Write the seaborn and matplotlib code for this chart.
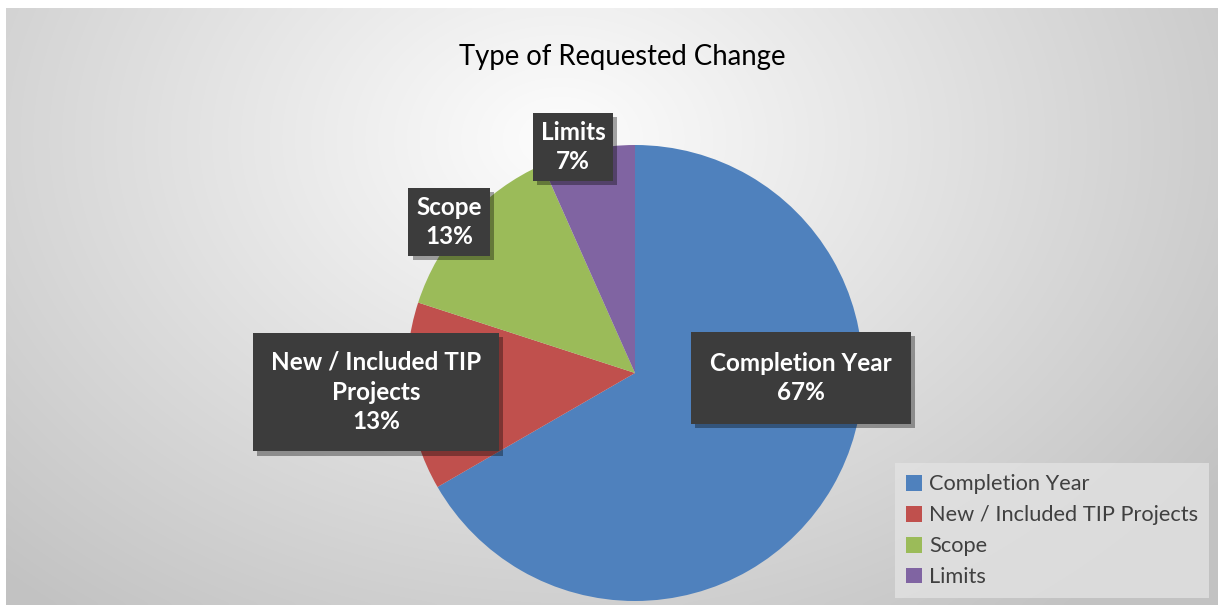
import numpy as np
import matplotlib.pyplot as plt
import matplotlib.patheffects as pe
from matplotlib.colors import LinearSegmentedColormap
import seaborn as sns

# data
categories = ['Completion Year', 'New / Included TIP Projects', 'Scope', 'Limits']
counts = [10, 2, 2, 1]
label_names = ['Completion Year', 'New / Included TIP\nProjects', 'Scope', 'Limits']
colors = ['#4F81BD', '#C0504D', '#9BBB59', '#8064A2']

# label box centres (pixels from top-left) and padding
label_xy = [(801, 378), (376, 392), (449, 222), (573, 147)]
label_pad = [0.8, 0.75, 0.32, 0.32]

W, H = 1218, 613

sns.set_theme(style='white')
plt.rcParams['font.family'] = ['Lato', 'DejaVu Sans']

fig = plt.figure(figsize=(W / 100, H / 100), dpi=100)
fig.patch.set_facecolor('white')
ax = fig.add_axes([0, 0, 1, 1])
ax.set_axis_off()

# radial grey gradient behind the chart area
gx, gy = np.meshgrid(np.linspace(6, W, 300), np.linspace(8, H, 150))
dist = np.sqrt(((gx - 560) / 820) ** 2 + ((gy - 140) / 620) ** 2)
grad_cmap = LinearSegmentedColormap.from_list('bg', ['#fdfdfd', '#c2c2c2'])
ax.imshow(np.clip(dist, 0, 1), extent=(6, W, H - 605, H - 8), origin='upper',
          cmap=grad_cmap, vmin=0, vmax=1, aspect='auto', zorder=0,
          interpolation='bicubic')

wedges, _ = ax.pie(counts, colors=colors, startangle=90, counterclock=False,
                   radius=228, center=(635, H - 373),
                   wedgeprops=dict(linewidth=0))
for w in wedges:
    w.set_zorder(2)

total = sum(counts)
for name, v, (px, py), pad in zip(label_names, counts, label_xy, label_pad):
    t = ax.text(px, H - py, f'{name}\n{v / total * 100:.0f}%', ha='center', va='center',
                color='white', fontsize=17.5, fontweight='bold', linespacing=1.35,
                zorder=5,
                bbox=dict(boxstyle=f'square,pad={pad}', fc='#3c3c3c', ec='none', lw=0))
    t.get_bbox_patch().set_path_effects([
        pe.withSimplePatchShadow(offset=(3, -3), shadow_rgbFace='black', alpha=0.35),
        pe.Normal()])

ax.text(622, H - 57, 'Type of Requested Change', ha='center', va='center',
        fontsize=19.8, color='black')

leg = ax.legend(wedges, categories, loc='lower left',
                bbox_to_anchor=(895 / W, (H - 598) / H), bbox_transform=fig.transFigure,
                frameon=True, fancybox=False, fontsize=15.7, handlelength=0.75,
                handleheight=0.75, handletextpad=0.3, labelspacing=0.5,
                borderpad=0.5, borderaxespad=0)
leg.get_frame().set_facecolor('#e2e2e2')
leg.get_frame().set_edgecolor('none')
leg.get_frame().set_alpha(0.8)
for txt in leg.get_texts():
    txt.set_color('#404040')
leg.set_zorder(6)

ax.set_xlim(0, W)
ax.set_ylim(0, H)

fig.savefig('out.png', dpi=100)
